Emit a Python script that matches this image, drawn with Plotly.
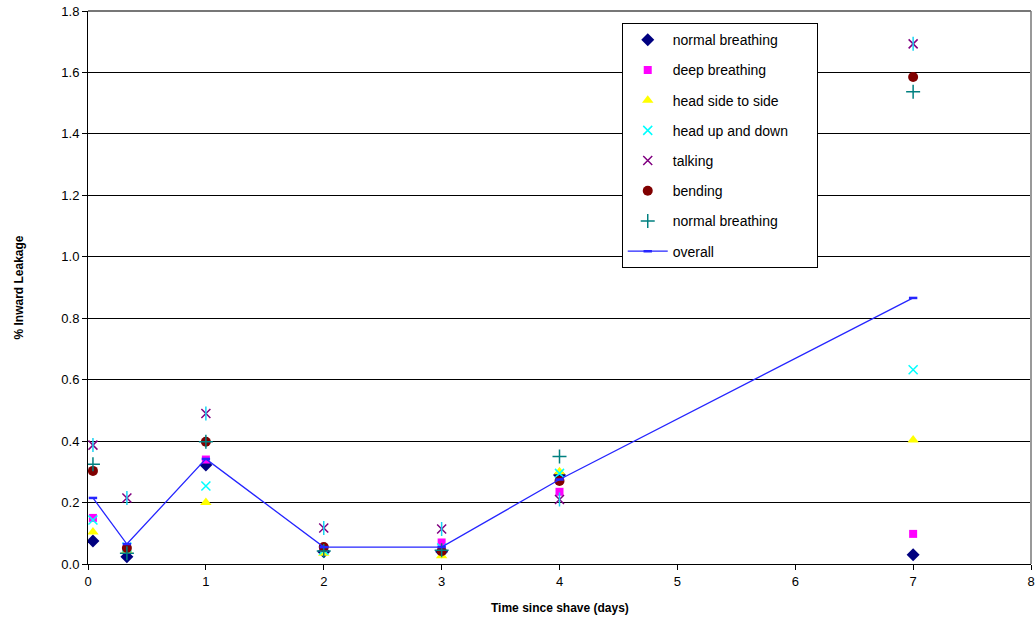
import plotly.graph_objects as go

# Time since shave (days)
days = [0.042, 0.33, 1, 2, 3, 4, 7]

normal_breathing = [0.075, 0.024, 0.322, 0.040, 0.040, 0.290, 0.030]
deep_breathing = [0.150, 0.050, 0.340, 0.052, 0.070, 0.235, 0.098]
head_side_to_side = [0.104, 0.045, 0.200, 0.035, 0.027, 0.300, 0.404]
head_up_and_down = [0.143, 0.055, 0.254, 0.045, 0.052, 0.295, 0.632]
talking = [0.387, 0.215, 0.490, 0.117, 0.114, 0.210, 1.693]
bending = [0.303, 0.052, 0.398, 0.055, 0.042, 0.270, 1.585]
normal_breathing_2 = [0.325, 0.035, 0.398, 0.042, 0.045, 0.350, 1.537]
overall = [0.215, 0.065, 0.342, 0.055, 0.055, 0.275, 0.866]

PAD = "\u00a0" * 6  # widens the legend box like the original

series = [
    ("normal breathing", normal_breathing, "diamond", "#000080", 10, None),
    ("deep breathing", deep_breathing, "square", "#FF00FF", 8, None),
    ("head side to side", head_side_to_side, "triangle-up", "#FFFF00", 10, None),
    ("head up and down" + PAD, head_up_and_down, "x-thin-open", "#00FFFF", 9, 1.5),
    ("talking", talking, "x-thin-open", "#800080", 9, 1.5),
    ("bending", bending, "circle", "#800000", 10, None),
    ("normal breathing", normal_breathing_2, "cross-thin-open", "#008080", 10, 1.5),
]

fig = go.Figure()
for i, (name, vals, sym, col, size, lw) in enumerate(series):
    marker = dict(symbol=sym, color=col, size=size)
    if lw:
        marker["line"] = dict(color=col, width=lw)
    else:
        marker["line"] = dict(width=0)
    fig.add_trace(go.Scatter(x=days, y=vals, mode="markers", name=name,
                             marker=marker, legendgroup=f"g{i}"))
    if name == "talking":
        # vertical bar of the Excel star marker
        fig.add_trace(go.Scatter(x=days, y=vals, mode="markers", showlegend=False,
                                 marker=dict(symbol="line-ns-open", size=10,
                                             line=dict(color=col, width=1.5)),
                                 legendgroup=f"g{i}"))

fig.add_trace(go.Scatter(x=days, y=overall, mode="lines+markers", name="overall",
                         line=dict(color="#2525FF", width=1.3),
                         marker=dict(symbol="line-ew-open", size=6,
                                     line=dict(color="#2525FF", width=2.5)),
                         legendgroup="g7"))

fig.update_layout(
    width=1035, height=624, autosize=False,
    margin=dict(l=88, r=4, t=11, b=60),
    paper_bgcolor="white", plot_bgcolor="white",
    font=dict(family="Liberation Sans, Arial, sans-serif", size=13, color="black"),
    showlegend=True,
    legend=dict(x=0.566, y=0.978, xanchor="left", yanchor="top",
                bordercolor="black", borderwidth=1, bgcolor="white",
                font=dict(size=14), tracegroupgap=9, itemwidth=40),
    xaxis=dict(range=[0, 8], dtick=1, showgrid=False, zeroline=False, automargin=False,
               showline=True, linecolor="black", linewidth=1,
               ticks="outside", ticklen=5, tickcolor="black",
               tickfont=dict(size=13)),
    yaxis=dict(range=[0, 1.8], dtick=0.2, tickformat=".1f", automargin=False,
               showgrid=True, gridcolor="black", gridwidth=1, zeroline=False,
               showline=True, linecolor="black", linewidth=1,
               ticks="outside", ticklen=5, tickcolor="black",
               tickfont=dict(size=13)),
)
fig.add_annotation(text="<b>Time since shave (days)</b>", xref="paper", yref="paper",
                   x=0.5, y=0, yshift=-44, xanchor="center", yanchor="middle",
                   showarrow=False, font=dict(size=12))
fig.add_annotation(text="<b>% Inward Leakage</b>", xref="paper", yref="paper",
                   x=0, xshift=-70, y=0.5, textangle=-90, xanchor="center", yanchor="middle",
                   showarrow=False, font=dict(size=12))
fig.add_shape(type="line", xref="paper", yref="paper", x0=1, x1=1, y0=0, y1=1,
              line=dict(color="#999999", width=2))
fig.add_shape(type="line", xref="paper", yref="paper", x0=0, x1=1, y0=1, y1=1,
              line=dict(color="#777777", width=2))

fig.write_html("out.html", config={"responsive": False, "displayModeBar": False},
               post_script="document.body.style.margin='0';document.body.style.padding='0';"
                           "document.body.style.overflow='hidden';")
